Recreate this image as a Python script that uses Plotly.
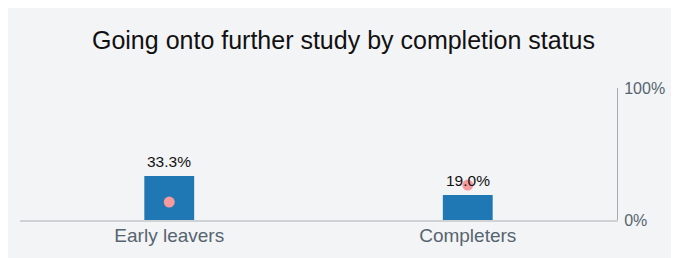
import plotly.graph_objects as go

categories = ["Early leavers", "Completers"]
values = [0.333, 0.190]
benchmark = [0.136, 0.265]
y_tick_vals = [0, 1]
y_tick_text = ["0%", "100%"]

BG = "#f3f4f6"
FONT = "Liberation Sans, Arial, sans-serif"

fig = go.Figure()
fig.add_trace(go.Bar(
    x=categories, y=values, width=[0.167, 0.167],
    marker=dict(color="#1f77b4", line=dict(width=0)),
    showlegend=False, hoverinfo="skip",
))
fig.add_trace(go.Scatter(
    x=categories, y=benchmark, mode="markers",
    marker=dict(color="#f79a9c", size=11, line=dict(width=0)),
    showlegend=False, hoverinfo="skip", cliponaxis=False,
))
for c, v in zip(categories, values):
    fig.add_annotation(x=c, y=v, text=f"{v*100:.1f}%", showarrow=False,
                       yanchor="bottom", yshift=4,
                       font=dict(size=15.5, color="#111111", family=FONT))

fig.update_layout(
    width=671, height=250,
    margin=dict(l=12, r=62, t=80, b=38, autoexpand=False),
    paper_bgcolor=BG, plot_bgcolor=BG,
    title=dict(text="Going onto further study by completion status", x=0.5, xanchor="center",
               y=1 - 32/250, yanchor="middle",
               font=dict(size=25, color="#111111", family=FONT)),
    font=dict(family=FONT),
    xaxis=dict(showline=True, linecolor="#d0d3d6", linewidth=2, showgrid=False, zeroline=False,
               automargin=False, ticks="", ticklabelstandoff=-3,
               tickfont=dict(size=19, color="#56646f")),
    yaxis=dict(side="right", range=[0, 1], tickvals=y_tick_vals, ticktext=y_tick_text,
               showline=True, linecolor="#a2acb3", linewidth=1, showgrid=False, zeroline=False,
               automargin=False, ticks="", ticklabelstandoff=3,
               tickfont=dict(size=16, color="#56646f")),
)

fig.write_html("out.html")
